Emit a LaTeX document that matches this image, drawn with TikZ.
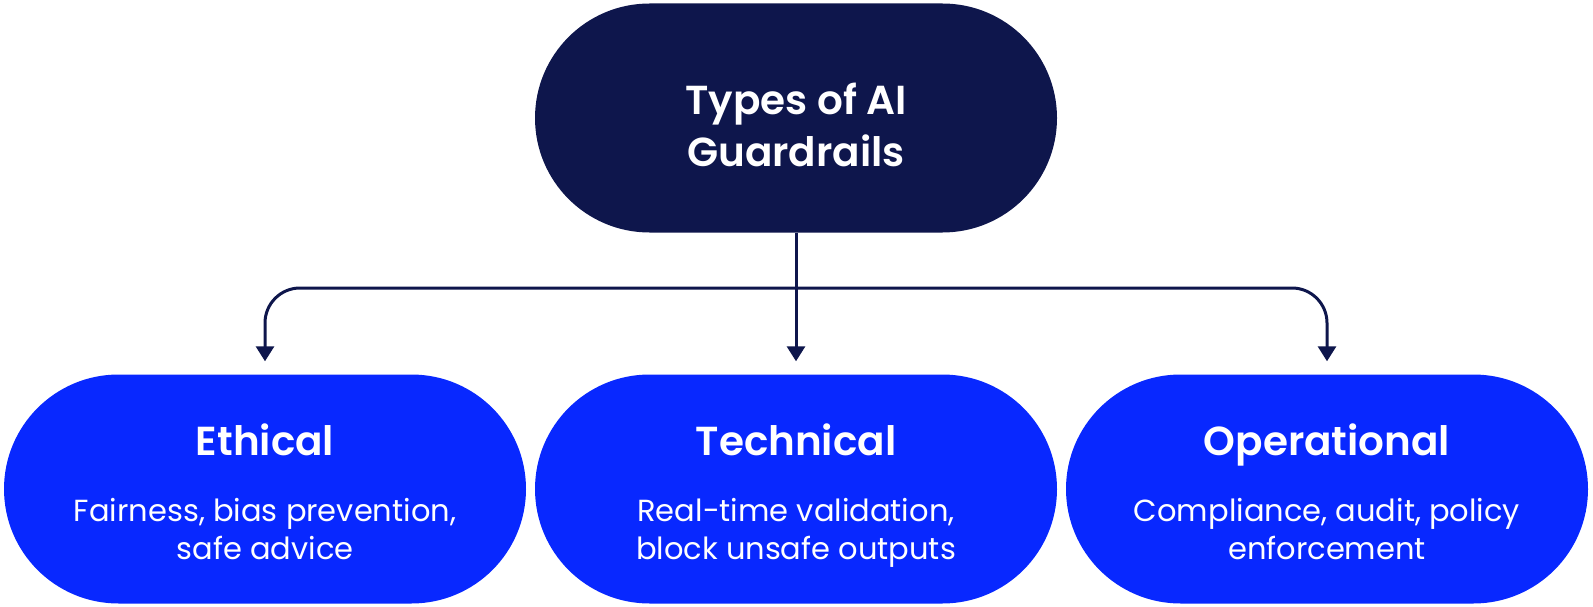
\documentclass[tikz,border=0pt]{standalone}
\usepackage{fontspec}
\setmainfont{Poppins}[BoldFont={Poppins SemiBold}]
\usetikzlibrary{shapes.misc,arrows.meta,calc}
\definecolor{navy}{HTML}{0E164C}
\definecolor{brightblue}{HTML}{0828FF}
\begin{document}
\begin{tikzpicture}[x=1pt,y=-1pt,
  pill/.style={rounded rectangle, minimum width=522pt, minimum height=229pt, inner sep=0pt, draw=none},
  toppill/.style={pill, fill=navy},
  botpill/.style={pill, fill=brightblue},
  titletext/.style={anchor=base, text=white, inner sep=0pt, font=\fontsize{40.5}{50}\selectfont\bfseries},
  bodytext/.style={anchor=base, text=white, inner sep=0pt, font=\fontsize{30.5}{36}\selectfont},
  conn/.style={draw=navy, line width=3pt, -{Triangle[width=18pt,length=15pt]}, shorten >=13pt}
]
\useasboundingbox (0,0) rectangle (1593,607);
\node[toppill] (top) at (796,118) {};
\node[botpill] (eth) at (265,489) {};
\node[botpill] (tech) at (796,489) {};
\node[botpill] (op) at (1327,489) {};

\node[titletext] (topa) at ($(top.center)+(0,-3)$) {Types of AI};
\node[titletext] (topb) at ($(top.center)+(0,48)$) {Guardrails};

\node[titletext] (etht) at ($(eth.center)+(0,-34)$) {Ethical};
\node[bodytext] (ethb1) at ($(eth.center)+(0,32)$) {Fairness, bias prevention,};
\node[bodytext] (ethb2) at ($(eth.center)+(0,70)$) {safe advice};

\node[titletext] (techt) at ($(tech.center)+(0,-34)$) {Technical};
\node[bodytext] (techb1) at ($(tech.center)+(0,32)$) {Real-time validation,};
\node[bodytext] (techb2) at ($(tech.center)+(0,70)$) {block unsafe outputs};

\node[titletext] (opt) at ($(op.center)+(0,-34)$) {Operational};
\node[bodytext] (opb1) at ($(op.center)+(0,32)$) {Compliance, audit, policy};
\node[bodytext] (opb2) at ($(op.center)+(0,70)$) {enforcement};

\coordinate (br) at (796,288);
\draw[conn] (top.south) -- (tech.north);
\draw[conn, rounded corners=35pt] (br) -| (eth.north);
\draw[conn, rounded corners=35pt] (br) -| (op.north);
\end{tikzpicture}
\end{document}
